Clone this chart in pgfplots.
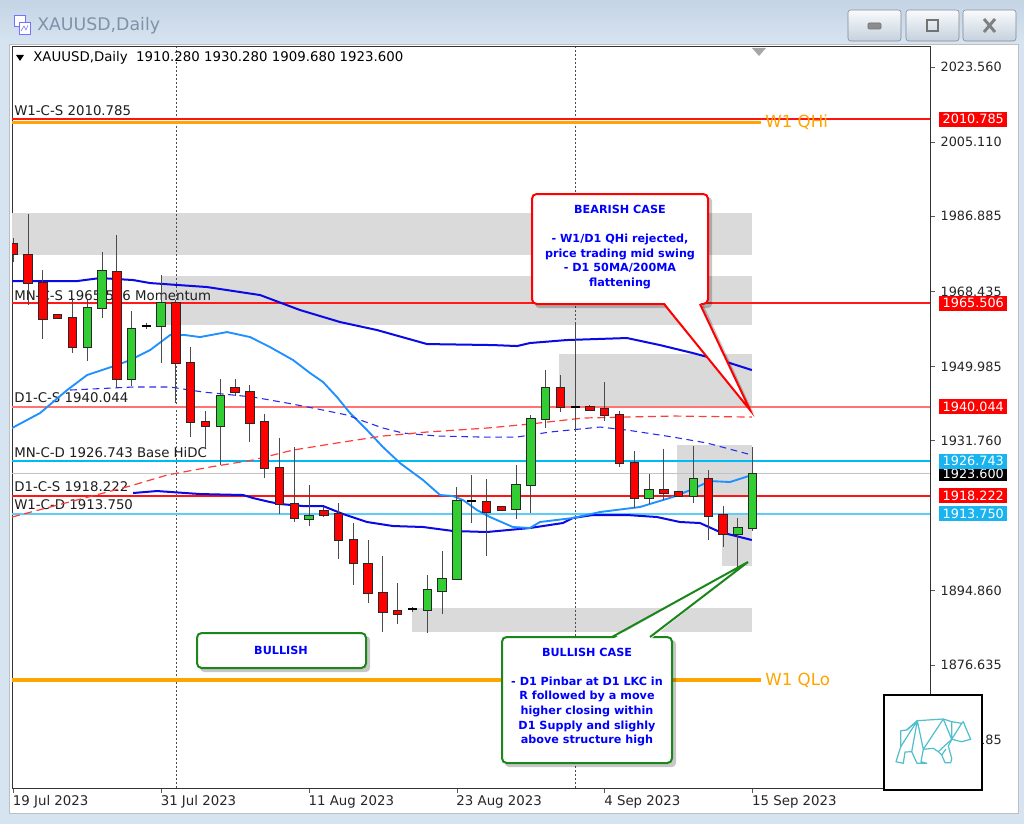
\documentclass[border=0pt]{standalone}
\usepackage{pgfplots}
\pgfplotsset{compat=1.18}
\usepackage{pgfplotstable}
\usepackage{fontspec}
\setmainfont{DejaVu Sans}
\definecolor{winbg}{RGB}{214,227,240}
\definecolor{titletop}{RGB}{196,212,229}
\definecolor{titlebot}{RGB}{214,227,240}
\definecolor{titletxt}{RGB}{128,145,168}
\definecolor{zone}{RGB}{218,218,218}
\definecolor{candred}{RGB}{255,0,0}
\definecolor{candgreen}{RGB}{50,205,50}
\definecolor{outl}{RGB}{40,40,40}
\definecolor{wick}{RGB}{75,75,75}
\definecolor{mablue}{RGB}{10,10,230}
\definecolor{malight}{RGB}{30,144,255}
\definecolor{madash}{RGB}{40,40,240}
\definecolor{mared}{RGB}{255,60,60}
\definecolor{levred}{RGB}{255,20,20}
\definecolor{levredb}{RGB}{255,25,25}
\definecolor{salmon}{RGB}{255,115,115}
\definecolor{cyanl}{RGB}{0,185,245}
\definecolor{cyanw}{RGB}{95,205,250}
\definecolor{bidgrey}{RGB}{195,195,195}
\definecolor{qorange}{RGB}{255,165,0}
\definecolor{cbred}{RGB}{255,0,0}
\definecolor{cbgreen}{RGB}{25,135,25}
\definecolor{cbtext}{RGB}{0,0,255}
\definecolor{pxblue}{RGB}{25,180,240}
\definecolor{bearteal}{RGB}{80,190,205}
\definecolor{labtxt}{RGB}{30,30,30}

\pgfplotstableread{
i O H L C
0 1980.07 1981.55 1975.65 1977.61
1 1977.37 1987.44 1965.08 1970.49
2 1970.49 1973.68 1956.73 1961.64
3 1962.63 1962.87 1961.64 1961.89
4 1961.89 1966.80 1953.29 1954.76
7 1973.19 1982.28 1944.69 1946.90
11 1965.57 1966.31 1941.00 1950.83
12 1950.83 1954.76 1932.65 1936.34
13 1936.34 1939.04 1929.95 1935.35
15 1944.69 1946.90 1942.72 1943.71
16 1943.71 1945.43 1931.42 1936.09
17 1936.34 1938.30 1922.58 1925.03
18 1925.03 1932.41 1913.73 1916.19
19 1916.19 1930.19 1911.77 1912.75
21 1914.47 1915.45 1912.99 1913.49
22 1913.73 1916.43 1902.68 1907.34
23 1907.34 1911.52 1896.29 1901.69
24 1901.45 1907.34 1891.86 1894.32
25 1894.32 1903.41 1884.74 1889.65
26 1889.90 1896.78 1886.70 1889.16
32 1916.68 1922.33 1903.41 1914.22
33 1915.45 1915.45 1914.47 1914.71
37 1944.69 1947.88 1938.79 1940.02
39 1940.02 1940.51 1939.04 1939.28
40 1939.53 1946.16 1936.58 1938.06
41 1938.06 1939.04 1925.28 1926.26
42 1926.26 1929.21 1915.21 1917.66
44 1919.63 1929.70 1917.17 1918.89
45 1919.14 1919.14 1917.91 1918.15
47 1922.33 1924.54 1907.34 1913.24
48 1913.49 1915.70 1905.62 1908.82
}\bear

\pgfplotstableread{
i O H L C
5 1954.76 1966.31 1951.32 1964.35
6 1964.35 1978.11 1961.89 1973.44
8 1946.90 1963.61 1945.18 1959.19
10 1959.92 1972.45 1950.83 1965.57
14 1935.35 1946.90 1925.77 1942.72
20 1912.50 1920.86 1910.78 1913.24
28 1890.14 1898.74 1884.49 1895.06
29 1894.81 1904.64 1889.16 1897.76
30 1897.76 1920.37 1897.52 1916.93
34 1914.96 1925.77 1912.50 1920.86
35 1920.86 1938.06 1913.98 1937.07
36 1937.07 1949.11 1934.86 1944.69
43 1917.66 1923.56 1916.19 1919.63
46 1918.15 1930.44 1916.43 1922.33
49 1908.82 1912.75 1900.71 1910.28
50 1910.28 1930.28 1909.68 1923.60
}\bull

\pgfplotstableread{
i O H L C
9 1959.92 1960.66 1959.19 1959.92
27 1890.39 1890.88 1889.65 1890.39
31 1916.93 1923.31 1911.52 1916.93
38 1940.02 1960.66 1934.37 1940.02
}\doji

\newcommand\labfont{\fontsize{10pt}{12pt}\selectfont}
\newcommand\tickfont{\fontsize{9.6pt}{11pt}\selectfont}
\newcommand\cbfont{\fontsize{8.4pt}{10.9pt}\selectfont\bfseries}

\begin{document}
\begin{tikzpicture}
\path[use as bounding box] (0,0) rectangle (768pt,-618pt);
\begin{scope}[x=0.75pt,y=-0.75pt]
  \fill[winbg] (0,0) rectangle (1024,824);
  \shade[top color=titletop, bottom color=titlebot] (0,0) rectangle (1024,42);
  \draw[blue!55!white, fill=white] (14,15) rectangle (25,26);
  \draw[blue!55!white, fill=white] (19,22) rectangle (30,34);
  \draw[blue!55!white] (21,31) -- (24,26) -- (26,30) -- (28,25);
  \node[anchor=west, text=titletxt, font=\fontsize{13pt}{15pt}\selectfont, inner sep=0pt] at (37,26) {XAUUSD,Daily};
  \foreach \bx in {848,906,963} {
    \shade[top color=white!85!winbg, bottom color=winbg!92!black, rounded corners=2pt] (\bx,10) rectangle (\bx+53,41);
    \draw[black!25!winbg!80!black, rounded corners=2pt] (\bx,10) rectangle (\bx+53,41);
  }
  \draw[black!55, fill=black!45, rounded corners=0.8pt] (868,23) rectangle (881,29);
  \draw[black!55, line width=1.2pt] (927,20) rectangle (938,31);
  \draw[black!50, line width=2.2pt] (984,19) -- (995,32) (995,19) -- (984,32);
  \fill[white] (9,44) rectangle (1018,813);
  \draw[black!25] (9,44) rectangle (1018,813);
\end{scope}

\begin{axis}[
  at={(9pt,-591pt)}, anchor=south west,
  scale only axis, width=688.5pt, height=555.75pt,
  xmin=-0.09, xmax=62, ymin=1846.4, ymax=2028.5,
  axis line style={black!80, line width=0.75pt},
  clip mode=individual,
  xtick={0,10,20,30,40,50},
  xticklabels={19 Jul 2023, 31 Jul 2023, 11 Aug 2023, 23 Aug 2023, 4 Sep 2023, 15 Sep 2023},
  xtick pos=bottom, ytick pos=right, yticklabel pos=right,
  tick align=outside, major tick length=3.75pt,
  tick style={black!65, line width=0.5pt},
  ytick={2023.560,2005.110,1986.885,1968.435,1949.985,1931.760,1894.860,1876.635,1858.185},
  yticklabels={2023.560,2005.110,1986.885,1968.435,1949.985,1931.760,1894.860,1876.635,1858.185},
  xticklabel style={anchor=north west, inner xsep=0pt, inner ysep=1pt, font=\labfont, text=black!85, xshift=-0.5pt, yshift=-0.5pt},
  yticklabel style={anchor=west, inner xsep=0pt, font=\tickfont, text=black!85, xshift=4pt},
]
% grey zones
\addplot[fill=zone, draw=none, forget plot] coordinates {(-0.09,1987.69) (49.95,1987.69) (49.95,1977.37) (-0.09,1977.37)} -- cycle;
\addplot[fill=zone, draw=none, forget plot] coordinates {(10.0,1972.21) (49.95,1972.21) (49.95,1960.17) (10.0,1960.17)} -- cycle;
\addplot[fill=zone, draw=none, forget plot] coordinates {(36.9,1953.05) (49.95,1953.05) (49.95,1940.02) (36.9,1940.02)} -- cycle;
\addplot[fill=zone, draw=none, forget plot] coordinates {(44.9,1930.69) (49.95,1930.69) (49.95,1918.15) (44.9,1918.15)} -- cycle;
\addplot[fill=zone, draw=none, forget plot] coordinates {(47.9,1913.49) (49.95,1913.49) (49.95,1900.96) (47.9,1900.96)} -- cycle;
\addplot[fill=zone, draw=none, forget plot] coordinates {(26.97,1890.63) (49.95,1890.63) (49.95,1884.74) (26.97,1884.74)} -- cycle;

% separators
\addplot[color=black!70, line width=0.6pt, dash pattern=on 1.5pt off 1.5pt, forget plot] coordinates {(11,1846.4) (11,2028.5)};
\addplot[color=black!70, line width=0.6pt, dash pattern=on 1.5pt off 1.5pt, forget plot] coordinates {(38,1846.4) (38,2028.5)};

% horizontal levels
\addplot[color=levred, line width=1.2pt, forget plot] coordinates {(-0.09,2010.785) (62,2010.785)};
\addplot[color=qorange, line width=2.3pt, forget plot] coordinates {(-0.09,2010.05) (50.6,2010.05)};
\addplot[color=qorange, line width=2.3pt, forget plot] coordinates {(-0.09,1872.95) (50.6,1872.95)};
\addplot[color=levredb, line width=1.5pt, forget plot] coordinates {(-0.09,1965.506) (62,1965.506)};
\addplot[color=salmon, line width=1.4pt, forget plot] coordinates {(-0.09,1940.044) (62,1940.044)};
\addplot[color=cyanl, line width=0.9pt, forget plot] coordinates {(-0.09,1926.743) (62,1926.743)};
\addplot[color=bidgrey, line width=0.75pt, forget plot] coordinates {(-0.09,1923.60) (62,1923.60)};
\addplot[color=levred, line width=1.2pt, forget plot] coordinates {(-0.09,1918.222) (62,1918.222)};
\addplot[color=cyanw, line width=1.4pt, forget plot] coordinates {(-0.09,1913.750) (62,1913.750)};

% left labels
\node[anchor=base west, inner sep=0pt, font=\labfont, text=labtxt, xshift=1.5pt, yshift=2.6pt] at (axis cs:-0.09,2010.785) {W1-C-S 2010.785};
\node[anchor=base west, inner sep=0pt, font=\labfont, text=labtxt, xshift=1.5pt, yshift=1.8pt] at (axis cs:-0.09,1965.506) {MN-C-S 1965.506 Momentum};
\node[anchor=base west, inner sep=0pt, font=\labfont, text=labtxt, xshift=1.5pt, yshift=3pt] at (axis cs:-0.09,1940.044) {D1-C-S 1940.044};
\node[anchor=base west, inner sep=0pt, font=\labfont, text=labtxt, xshift=1.5pt, yshift=2.6pt] at (axis cs:-0.09,1926.743) {MN-C-D 1926.743 Base HiDC};
\node[anchor=base west, inner sep=0pt, font=\labfont, text=labtxt, xshift=1.5pt, yshift=3pt] at (axis cs:-0.09,1918.222) {D1-C-S 1918.222};
\node[anchor=base west, inner sep=0pt, font=\labfont, text=labtxt, xshift=1.5pt, yshift=3pt] at (axis cs:-0.09,1913.750) {W1-C-D 1913.750};
\node[anchor=west, inner sep=0pt, font=\fontsize{12.5pt}{14pt}\selectfont, text=qorange, xshift=1pt] at (axis cs:50.75,2010.05) {W1 QHi};
\node[anchor=west, inner sep=0pt, font=\fontsize{12.5pt}{14pt}\selectfont, text=qorange, xshift=1pt] at (axis cs:50.75,1872.95) {W1 QLo};

% moving averages
\addplot[color=mablue, line width=1.5pt, forget plot] coordinates {
(-0.09,1970.98) (4.31,1970.98) (5.87,1971.72) (8.10,1971.23) (9.25,1970.49) (13.10,1969.51)
(16.69,1967.54) (19.39,1963.86) (22.10,1960.91) (24.60,1958.94) (27.98,1955.50) (32.44,1955.25)
(34.07,1955.01) (34.94,1955.75) (37.45,1956.49) (41.50,1956.98) (43.73,1955.25) (45.96,1953.29)
(48.47,1950.83) (49.95,1949.11)};
\addplot[color=mablue, line width=1.5pt, forget plot] coordinates {
(8.10,1918.89) (9.72,1919.38) (12.63,1918.64) (15.54,1918.40) (16.21,1917.66) (17.36,1916.68)
(18.04,1916.19) (19.59,1915.70) (20.95,1915.70) (22.30,1913.73) (23.92,1911.77) (25.68,1910.78)
(27.71,1910.54) (29.74,1909.56) (32.03,1909.31) (34.94,1910.29) (37.17,1911.52) (37.85,1912.75)
(39.20,1913.49) (41.50,1913.49) (43.53,1913.00) (45.08,1911.77) (46.44,1911.52) (47.79,1909.31)
(49.95,1907.34)};
\addplot[color=malight, line width=1.4pt, forget plot] coordinates {
(-0.09,1934.86) (1.81,1938.55) (3.64,1944.20) (4.99,1947.88) (7.02,1950.34) (7.90,1951.57)
(9.25,1954.02) (10.60,1957.71) (11.62,1957.71) (12.63,1957.22) (14.46,1958.45) (16.01,1957.22)
(17.36,1954.76) (18.92,1951.57) (20.07,1948.37) (20.95,1946.16) (21.89,1942.48) (22.77,1938.55)
(23.92,1934.37) (25.00,1930.19) (26.15,1926.26) (27.71,1922.08) (28.86,1918.40) (29.74,1918.15)
(30.41,1917.17) (31.36,1914.71) (32.24,1912.99) (33.79,1910.54) (34.94,1910.29) (35.62,1911.77)
(37.85,1912.75) (39.68,1914.22) (42.38,1915.45) (44.61,1917.91) (45.96,1919.87) (47.11,1921.84)
(48.47,1921.59) (49.95,1923.31)};
\addplot[color=madash, line width=0.8pt, dash pattern=on 5pt off 3.5pt, forget plot] coordinates {
(3.84,1944.20) (8.10,1944.94) (10.60,1944.94) (12.83,1943.71) (16.21,1942.48) (18.51,1941.00)
(20.27,1939.77) (22.57,1938.06) (23.65,1936.58) (25.00,1934.86) (26.36,1933.63) (28.65,1932.90)
(31.56,1932.65) (34.07,1932.65) (36.29,1933.88) (39.68,1935.11) (41.50,1934.37) (44.61,1932.65)
(46.91,1931.18) (49.95,1928.23)};
\addplot[color=mared, line width=0.9pt, dash pattern=on 6pt off 3.5pt, forget plot] coordinates {
(-0.09,1912.99) (7.90,1920.61) (10.40,1923.31) (13.31,1925.28) (16.21,1927.00) (18.92,1929.45)
(22.30,1931.42) (25.00,1932.90) (27.98,1933.88) (32.03,1934.86) (34.94,1935.84) (38.52,1937.32)
(41.50,1937.56) (44.61,1937.81) (49.95,1937.56)};

% candle wicks
\addplot[draw=none, mark=none, forget plot, error bars/.cd, y dir=both, y explicit, error mark=none,
  error bar style={draw=wick, line width=0.75pt}]
  table[x=i, y expr={(\thisrow{H}+\thisrow{L})/2}, y error expr={(\thisrow{H}-\thisrow{L})/2}] {\bear};
\addplot[draw=none, mark=none, forget plot, error bars/.cd, y dir=both, y explicit, error mark=none,
  error bar style={draw=wick, line width=0.75pt}]
  table[x=i, y expr={(\thisrow{H}+\thisrow{L})/2}, y error expr={(\thisrow{H}-\thisrow{L})/2}] {\bull};
\addplot[draw=none, mark=none, forget plot, error bars/.cd, y dir=both, y explicit, error mark=none,
  error bar style={draw=wick, line width=0.75pt}]
  table[x=i, y expr={(\thisrow{H}+\thisrow{L})/2}, y error expr={(\thisrow{H}-\thisrow{L})/2}] {\doji};
% candle bodies: outline
\addplot[draw=none, mark=none, forget plot, error bars/.cd, y dir=both, y explicit, error mark=none,
  error bar style={draw=outl, line width=7.1pt}]
  table[x=i, y expr={(\thisrow{O}+\thisrow{C})/2}, y error expr={abs(\thisrow{O}-\thisrow{C})/2+0.22}] {\bear};
\addplot[draw=none, mark=none, forget plot, error bars/.cd, y dir=both, y explicit, error mark=none,
  error bar style={draw=outl, line width=7.1pt}]
  table[x=i, y expr={(\thisrow{O}+\thisrow{C})/2}, y error expr={abs(\thisrow{O}-\thisrow{C})/2+0.22}] {\bull};
% candle bodies: fill
\addplot[draw=none, mark=none, forget plot, error bars/.cd, y dir=both, y explicit, error mark=none,
  error bar style={draw=candred, line width=5.6pt}]
  table[x=i, y expr={(\thisrow{O}+\thisrow{C})/2}, y error expr={abs(\thisrow{O}-\thisrow{C})/2}] {\bear};
\addplot[draw=none, mark=none, forget plot, error bars/.cd, y dir=both, y explicit, error mark=none,
  error bar style={draw=candgreen, line width=5.6pt}]
  table[x=i, y expr={(\thisrow{O}+\thisrow{C})/2}, y error expr={abs(\thisrow{O}-\thisrow{C})/2}] {\bull};
% doji
\addplot[only marks, mark=-, mark size=3.4pt, mark options={draw=black, line width=1.1pt}, forget plot]
  table[x=i, y=O] {\doji};

\coordinate (P1) at (axis cs:62,2010.785);
\coordinate (P2) at (axis cs:62,1965.506);
\coordinate (P3) at (axis cs:62,1940.044);
\coordinate (P4) at (axis cs:62,1926.743);
\coordinate (P5) at (axis cs:62,1923.600);
\coordinate (P6) at (axis cs:62,1918.222);
\coordinate (P7) at (axis cs:62,1913.750);
\end{axis}

% price boxes on the right axis
\tikzset{pbox/.style={anchor=west, inner sep=0pt, minimum width=51pt, minimum height=11.25pt, text=white, font=\tickfont, fill=#1}}
\node[pbox=cbred] at ([xshift=6.75pt]P1) {2010.785};
\node[pbox=cbred] at ([xshift=6.75pt]P2) {1965.506};
\node[pbox=cbred] at ([xshift=6.75pt]P3) {1940.044};
\node[pbox=black] at ([xshift=6.75pt]P5) {1923.600};
\node[pbox=pxblue] at ([xshift=6.75pt]P4) {1926.743};
\node[pbox=cbred] at ([xshift=6.75pt]P6) {1918.222};
\node[pbox=pxblue] at ([xshift=6.75pt]P7) {1913.750};

\begin{scope}[x=0.75pt,y=-0.75pt]
  % header
  \fill[black] (16,55) -- (24,55) -- (20,61) -- cycle;
  \node[anchor=west, inner sep=0pt, font=\labfont, text=black] at (33,58) {XAUUSD,Daily\ \ 1910.280 1930.280 1909.680 1923.600};
  \fill[black!35] (752,48) -- (766,48) -- (759,56) -- cycle;

  % bearish callout
  \fill[black, opacity=0.22, rounded corners=3pt] (535,197) rectangle (712,308);
  \fill[black, opacity=0.22] (668,306) -- (754,414) -- (704,306) -- cycle;
  \draw[cbred, line width=1.5pt, fill=white, rounded corners=3.5pt] (532,194) rectangle (708,304);
  \fill[white] (664,302) -- (750,410) -- (700,302) -- cycle;
  \draw[cbred, line width=1.5pt] (664,304) -- (750,410) -- (700,304);
  \node[align=center, text=cbtext, font=\cbfont, inner sep=0pt] at (620,247)
    {BEARISH CASE\\[10.9pt]- W1/D1 QHi rejected,\\price trading mid swing\\- D1 50MA/200MA\\flattening};

  % bullish case callout
  \fill[black, opacity=0.22, rounded corners=3pt] (505,640) rectangle (676,767);
  \draw[cbgreen, line width=1.5pt, fill=white, rounded corners=3.5pt] (502,637) rectangle (672,763);
  \fill[white] (612,639.5) -- (748,562) -- (650,639.5) -- cycle;
  \draw[cbgreen, line width=1.5pt] (612,637) -- (748,562) -- (650,637);
  \node[align=center, text=cbtext, font=\cbfont, inner sep=0pt] at (587,697)
    {BULLISH CASE\\[10.9pt]- D1 Pinbar at D1 LKC in\\R followed by a move\\higher closing within\\D1 Supply and slighly\\above structure high};

  % bullish box
  \fill[black, opacity=0.22, rounded corners=3pt] (200,636) rectangle (370,672);
  \draw[cbgreen, line width=1.5pt, fill=white, rounded corners=3.5pt] (197,633) rectangle (366,668);
  \node[text=cbtext, font=\cbfont, inner sep=0pt] at (281,650) {BULLISH};

  % logo
  \draw[black, line width=2pt, fill=white] (884,695) rectangle (982,790);
  \begin{scope}[bearteal, line width=0.9pt, line join=round]
    \draw (900.7,730.7) -- (906.7,730) -- (917.3,720.7) -- (943.3,719) -- (951.7,721.7) -- (961.7,723.3)
      -- (963.3,721.7) -- (965,726) -- (970.7,739.3) -- (961.7,741.7) -- (951.7,739.3) -- (948.3,746)
      -- (951.7,758.3) -- (950.7,762.7) -- (945,762.7) -- (941.7,755) -- (938.3,751.7) -- (933.3,748.3)
      -- (923.3,749.3) -- (921,761.7) -- (926.7,763.3) -- (917,763.3) -- (911.7,751.7) -- (905,752)
      -- (903.3,763.3) -- (896,761.7) -- (900.7,746.7) -- cycle;
    \draw (917.3,720.7) -- (923.3,749.3) (943.3,719) -- (923.3,749.3) (943.3,719) -- (951.7,739.3)
      (906.7,730) -- (917.3,720.7) -- (900.7,746.7) (951.7,721.7) -- (951.7,739.3) -- (961.7,723.3)
      (911.7,751.7) -- (917.3,720.7) (938.3,751.7) -- (951.7,739.3) (941.7,755) -- (946,749);
  \end{scope}
\end{scope}
\end{tikzpicture}
\end{document}
